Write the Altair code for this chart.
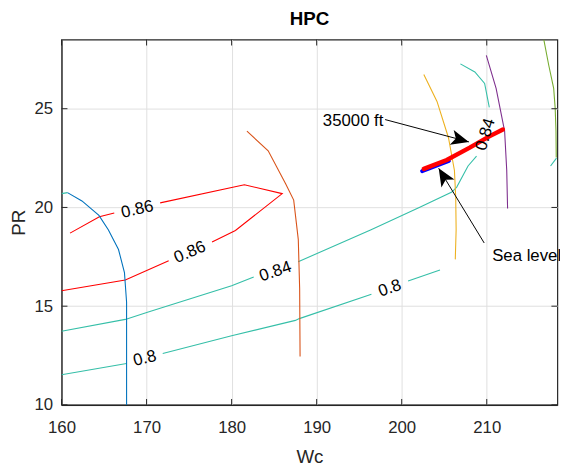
import math
import altair as alt
import pandas as pd

# ---------------- axes ----------------
x_domain = [160, 218.3]
y_domain = [10, 28.5]
x_ticks = [160, 170, 180, 190, 200, 210]
y_ticks = [10, 15, 20, 25]

# ---------------- speed lines ----------------
n1_wc = [160.7, 162.4, 164.4, 165.5, 166.7, 167.4, 167.65, 167.65]
n1_pr = [20.75, 20.33, 19.6, 18.87, 17.87, 16.7, 15.2, 10.0]
n2_wc = [181.8, 184.3, 186.35, 187.3, 187.84, 188.0, 188.05]
n2_pr = [23.86, 22.87, 21.2, 20.37, 18.37, 15.9, 12.45]
n3_wc = [202.6, 204.15, 205.5, 206.2, 206.35, 206.4, 206.3]
n3_pr = [26.73, 25.37, 23.53, 21.87, 20.53, 18.87, 17.37]
n4_wc = [209.95, 211.1, 212.1, 212.35, 212.45]
n4_pr = [27.7, 26.03, 23.87, 21.87, 19.95]
n5_wc = [216.71, 217.29, 217.87, 218.05, 218.14, 218.17]
n5_pr = [28.5, 27.2, 26.03, 25.0, 23.87, 22.53]

# ---------------- efficiency contours (split at label gaps) ----------------
c86a_wc = [161.0, 164.45, 166.2]
c86a_pr = [18.7, 19.53, 19.72]
c86b_wc = [171.6, 181.5, 185.95, 180.45, 177.7]
c86b_pr = [20.23, 21.15, 20.7, 18.83, 18.25]
c86c_wc = [172.6, 167.5, 160.0]
c86c_pr = [17.3, 16.33, 15.78]
c84a_wc = [160.0, 167.5, 170.2, 180.0, 182.6]
c84a_pr = [13.73, 14.33, 14.7, 16.03, 16.48]
c84b_wc = [187.83, 196.4, 202.0, 205.9, 206.47, 207.8, 208.8]
c84b_pr = [17.25, 18.87, 19.98, 20.78, 21.03, 22.1, 22.6]
c84c_wc = [210.3, 209.75, 208.6, 206.9]
c84c_pr = [25.07, 26.28, 26.86, 27.27]
c84d_wc = [160.0, 160.7]
c84d_pr = [20.7, 20.75]
c84e_wc = [217.5, 218.2]
c84e_pr = [22.1, 22.5]
c80a_wc = [160.0, 167.65]
c80a_pr = [11.53, 12.1]
c80b_wc = [171.9, 180.0, 187.5, 187.96, 196.44]
c80b_pr = [12.6, 13.5, 14.28, 14.37, 15.6]
c80c_wc = [200.75, 204.5]
c80c_pr = [16.28, 16.83]

# contour labels
lab_text = ["0.86", "0.86", "0.84", "0.84", "0.8", "0.8"]
lab_wc = [168.92, 175.1, 185.15, 209.85, 169.8, 198.6]
lab_pr = [19.9, 17.73, 16.75, 23.7, 12.35, 15.9]
lab_angle = [347, 337, 341, 287, 346, 341]

# ---------------- operating lines ----------------
sea_wc = [202.4, 205.55]
sea_pr = [21.84, 22.36]
alt_wc = [202.6, 205.3, 208.0, 210.3, 211.9]
alt_pr = [21.95, 22.4, 23.03, 23.6, 23.95]

# ---------------- annotations ----------------
ann_text = ["35000 ft", "Sea level"]
ann_text_wc = [197.85, 210.64]
ann_text_pr = [24.37, 17.53]
arr_tail_wc = [198.05, 209.7]
arr_tail_pr = [24.45, 18.2]
arr_tip_wc = [207.9, 204.35]
arr_tip_pr = [23.32, 21.98]

# ---------------- layout ----------------
W, H = 503, 370.6
FONT = "Liberation Sans"
AX = "#262626"
TEAL = "#35bfa8"


def rows(name, wcs, prs):
    return [{"id": name, "i": k, "wc": a, "pr": b} for k, (a, b) in enumerate(zip(wcs, prs))]


speed = (rows("N1", n1_wc, n1_pr) + rows("N2", n2_wc, n2_pr) + rows("N3", n3_wc, n3_pr)
         + rows("N4", n4_wc, n4_pr) + rows("N5", n5_wc, n5_pr))
speed_df = pd.DataFrame(speed)
speed_ids = ["N1", "N2", "N3", "N4", "N5"]
speed_cols = ["#0072BD", "#D95319", "#EDB120", "#7E2F8E", "#77AC30"]

cont = (rows("86a", c86a_wc, c86a_pr) + rows("86b", c86b_wc, c86b_pr) + rows("86c", c86c_wc, c86c_pr)
        + rows("84a", c84a_wc, c84a_pr) + rows("84b", c84b_wc, c84b_pr) + rows("84c", c84c_wc, c84c_pr)
        + rows("84d", c84d_wc, c84d_pr) + rows("84e", c84e_wc, c84e_pr)
        + rows("80a", c80a_wc, c80a_pr) + rows("80b", c80b_wc, c80b_pr) + rows("80c", c80c_wc, c80c_pr))
cont_df = pd.DataFrame(cont)
cont_ids = ["86a", "86b", "86c", "84a", "84b", "84c", "84d", "84e", "80a", "80b", "80c"]
cont_cols = ["#FF0000"] * 3 + [TEAL] * 8

lab_df = pd.DataFrame({"wc": lab_wc, "pr": lab_pr, "t": lab_text, "ang": lab_angle})

sea_df = pd.DataFrame(rows("sea", sea_wc, sea_pr))
alt_df = pd.DataFrame(rows("alt", alt_wc, alt_pr))

px_x = W / (x_domain[1] - x_domain[0])
px_y = H / (y_domain[1] - y_domain[0])
arr_ang = []
for k in range(len(arr_tip_wc)):
    dx = (arr_tip_wc[k] - arr_tail_wc[k]) * px_x
    dy = -(arr_tip_pr[k] - arr_tail_pr[k]) * px_y
    arr_ang.append(math.degrees(math.atan2(dy, dx)) % 360)
arr_df = pd.DataFrame({"wc": arr_tail_wc, "pr": arr_tail_pr, "wc2": arr_tip_wc, "pr2": arr_tip_pr})
head_df = pd.DataFrame({"wc": arr_tip_wc, "pr": arr_tip_pr, "ang": arr_ang})
ann_df = pd.DataFrame({"wc": ann_text_wc, "pr": ann_text_pr, "t": ann_text})

xt_df = pd.DataFrame({"wc": x_ticks})
yt_df = pd.DataFrame({"pr": y_ticks})

xs = alt.Scale(domain=x_domain, nice=False, zero=False)
ys = alt.Scale(domain=y_domain, nice=False, zero=False)

X = alt.X("wc:Q", scale=xs, axis=alt.Axis(values=x_ticks, title="Wc", format="d"))
Y = alt.Y("pr:Q", scale=ys, axis=alt.Axis(values=y_ticks, title="PR", format="d"))

contours = alt.Chart(cont_df).mark_line(strokeWidth=1.1, clip=True).encode(
    x=X, y=Y,
    color=alt.Color("id:N", scale=alt.Scale(domain=cont_ids, range=cont_cols), legend=None),
    order=alt.Order("i:Q"),
)

speeds = alt.Chart(speed_df).mark_line(strokeWidth=1.1, clip=True).encode(
    x=alt.X("wc:Q"), y=alt.Y("pr:Q"),
    stroke=alt.Stroke("id:N", scale=alt.Scale(domain=speed_ids, range=speed_cols), legend=None),
    order=alt.Order("i:Q"),
)

labels = alt.Chart(lab_df).mark_text(font=FONT, fontSize=17, color="#000000",
                                     align="center", baseline="middle").encode(
    x=alt.X("wc:Q"), y=alt.Y("pr:Q"), text="t:N", angle=alt.Angle("ang:Q", scale=None)
)

sea_line = alt.Chart(sea_df).mark_line(color="#0000FF", strokeWidth=4, strokeCap="round").encode(
    x=alt.X("wc:Q"), y=alt.Y("pr:Q"), order=alt.Order("i:Q"))
alt_line = alt.Chart(alt_df).mark_line(color="#FF0000", strokeWidth=4.5, strokeCap="round").encode(
    x=alt.X("wc:Q"), y=alt.Y("pr:Q"), order=alt.Order("i:Q"))

arrows = alt.Chart(arr_df).mark_rule(color="#000000", strokeWidth=1).encode(
    x=alt.X("wc:Q"), y=alt.Y("pr:Q"), x2="wc2:Q", y2="pr2:Q")

head_path = "M0,0 L-1,-0.43 L-0.76,0 L-1,0.43 Z"
heads = alt.Chart(head_df).mark_point(shape=head_path, filled=True, size=1296, color="#000000",
                                      opacity=1, strokeWidth=0).encode(
    x=alt.X("wc:Q"), y=alt.Y("pr:Q"), angle=alt.Angle("ang:Q", scale=None))

ann_right = alt.Chart(ann_df.iloc[[0]]).mark_text(font=FONT, fontSize=17, color="#000000",
                                                  align="right", baseline="middle").encode(
    x=alt.X("wc:Q"), y=alt.Y("pr:Q"), text="t:N")
ann_left = alt.Chart(ann_df.iloc[[1]]).mark_text(font=FONT, fontSize=17, color="#000000",
                                                 align="left", baseline="middle").encode(
    x=alt.X("wc:Q"), y=alt.Y("pr:Q"), text="t:N")

TL = 6
xt_bot = alt.Chart(xt_df).mark_rule(color=AX, strokeWidth=1).encode(
    x=alt.X("wc:Q"), y=alt.value(H), y2=alt.value(H - TL))
xt_top = alt.Chart(xt_df).mark_rule(color=AX, strokeWidth=1).encode(
    x=alt.X("wc:Q"), y=alt.value(0), y2=alt.value(TL))
yt_left = alt.Chart(yt_df).mark_rule(color=AX, strokeWidth=1).encode(
    y=alt.Y("pr:Q"), x=alt.value(0), x2=alt.value(TL))
yt_right = alt.Chart(yt_df).mark_rule(color=AX, strokeWidth=1).encode(
    y=alt.Y("pr:Q"), x=alt.value(W), x2=alt.value(W - TL))

chart = alt.layer(
    contours, speeds, sea_line, alt_line, arrows, heads, labels, ann_right, ann_left,
    xt_bot, xt_top, yt_left, yt_right,
).properties(
    width=W, height=H,
    title=alt.TitleParams("HPC"),
    autosize=alt.AutoSizeParams(type="none"),
    padding={"left": 54.3, "top": 28.7, "right": 2.7, "bottom": 64},
    background="white",
).configure_view(
    stroke=AX, strokeWidth=1.2
).configure_axis(
    grid=True, gridColor="#e0e0e0", gridWidth=1,
    domain=True, domainColor=AX, domainWidth=1.2,
    ticks=False, tickSize=0, labelFlush=False, labelOverlap=False,
    labelFont=FONT, labelFontSize=17, labelColor=AX,
    titleFont=FONT, titleFontSize=19, titleColor=AX, titleFontWeight="normal",
).configure_axisX(
    labelPadding=15, titleY=58, titleBaseline="alphabetic",
).configure_axisY(
    labelPadding=9, titleX=-38, titleY=H / 2, titleAngle=270,
    titleBaseline="alphabetic", titleAlign="center",
).configure_title(
    font=FONT, fontSize=19, fontWeight="bold", color="#000000",
    anchor="middle", offset=10.7, baseline="alphabetic",
)

chart.save("out.html", embed_options={"renderer": "svg", "actions": False})
